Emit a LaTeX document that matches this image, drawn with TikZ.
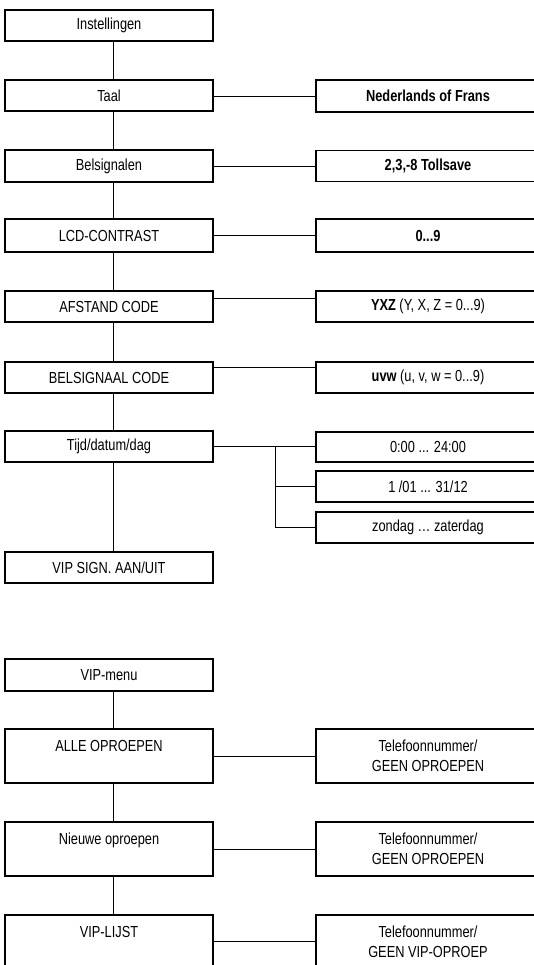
\documentclass[tikz,border=0pt]{standalone}
\usepackage{fontspec}
\setmainfont[FakeStretch=0.8]{Liberation Sans}
\begin{document}
\begin{tikzpicture}[x=1pt,y=-1pt,
  box/.style={draw,line width=1.3pt,inner sep=0pt,align=center,
    font=\fontsize{16}{20}\selectfont},
  lbox/.style={box,minimum width=208pt},
  rbox/.style={box,minimum width=224pt},
  conn/.style={line width=0.7pt}]
\useasboundingbox (0,0) rectangle (534,965);
\clip (0,0) rectangle (534,965);
% left column
\node[lbox,minimum height=31pt] (inst) at (109,25.5) {Instellingen};
\node[lbox,minimum height=31pt] (taal) at (109,95.5) {Taal};
\node[lbox,minimum height=32pt] (bel) at (109,166) {Belsignalen};
\node[lbox,minimum height=33pt] (lcd) at (109,235.5) {LCD-CONTRAST};
\node[lbox,minimum height=31pt] (afst) at (109,306.5) {AFSTAND CODE};
\node[lbox,minimum height=31pt] (bsc) at (109,377.5) {BELSIGNAAL CODE};
\node[lbox,minimum height=31pt] (tijd) at (109,446.5) {Tijd/datum/dag};
\node[lbox,minimum height=31pt] (vips) at (109,567.5) {VIP SIGN. AAN/UIT};
% right column
\node[rbox,minimum height=32pt] (taalr) at (428,96) {\bfseries Nederlands of Frans};
\node[rbox,minimum height=31pt] (belr) at (428,166) {\bfseries 2,3,-8 Tollsave};
\node[rbox,minimum height=33pt] (lcdr) at (428,235.5) {\bfseries 0...9};
\node[rbox,minimum height=31pt] (afstr) at (428,306.5) {\textbf{YXZ} (Y, X, Z = 0...9)};
\node[rbox,minimum height=31pt] (bscr) at (428,377.5) {\textbf{uvw} (u, v, w = 0...9)};
\node[rbox,minimum height=30pt] (t1) at (428,447) {0:00 ... 24:00};
\node[rbox,minimum height=31pt] (t2) at (428,486.5) {1 /01 ... 31/12};
\node[rbox,minimum height=31pt] (t3) at (428,527.5) {zondag … zaterdag};
% VIP menu
\node[lbox,minimum height=32pt] (vipm) at (109,675) {VIP-menu};
\node[lbox,minimum height=54pt] (alle) at (109,756) {ALLE OPROEPEN\\\phantom{GEEN OPROEPEN}};
\node[lbox,minimum height=54pt] (nieuw) at (109,849) {Nieuwe oproepen\\\phantom{GEEN OPROEPEN}};
\node[lbox,minimum height=53pt] (lijst) at (109,941.5) {VIP-LIJST\\\phantom{GEEN VIP-OPROEP}};
\node[rbox,minimum height=54pt] (aller) at (428,756) {Telefoonnummer/\\GEEN OPROEPEN};
\node[rbox,minimum height=54pt] (nieuwr) at (428,849) {Telefoonnummer/\\GEEN OPROEPEN};
\node[rbox,minimum height=53pt] (lijstr) at (428,941.5) {Telefoonnummer/\\GEEN VIP-OPROEP};
% vertical connectors
\foreach \a/\b in {inst/taal,taal/bel,bel/lcd,lcd/afst,afst/bsc,bsc/tijd,tijd/vips,vipm/alle,alle/nieuw,nieuw/lijst}
  \draw[conn] ([xshift=4pt]\a.south) -- ([xshift=4pt]\b.north);
% horizontal connectors
\draw[conn] ([yshift=-1pt]taal.east) -- ([yshift=-1pt]taal.east -| taalr.west);
\draw[conn] (bel.east) -- (belr.west);
\draw[conn] (lcd.east) -- (lcdr.west);
\draw[conn] ([yshift=8.5pt]afst.east) -- ([yshift=8.5pt]afstr.west);
\draw[conn] ([yshift=10pt]bsc.east) -- ([yshift=10pt]bscr.west);
\draw[conn] (alle.east) -- (aller.west);
\draw[conn] (nieuw.east) -- (nieuwr.west);
\draw[conn] (lijst.east) -- (lijstr.west);
% branch
\coordinate (br) at (275,446);
\draw[conn] (tijd.east |- br) -- (t1.west |- br);
\draw[conn] (br) |- (t3.west);
\draw[conn] (br |- t2.west) -- (t2.west);
\end{tikzpicture}
\end{document}
